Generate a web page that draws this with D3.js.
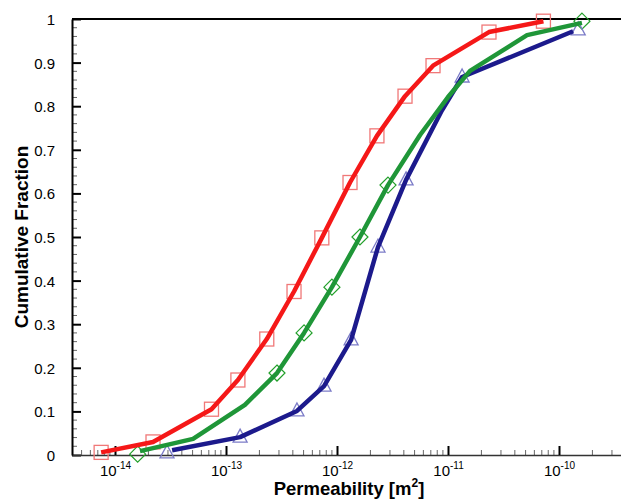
<!DOCTYPE html>
<html>
<head>
<meta charset="utf-8">
<script src="https://cdn.jsdelivr.net/npm/d3@7"></script>
<style>
  html, body { margin: 0; padding: 0; background: #fff; }
  svg { display: block; overflow: hidden; }
  text { font-family: Arial, "Liberation Sans", sans-serif; fill: #000; }
</style>
</head>
<body>
<div id="chart"></div>
<script>
// --- data (permeability in m2, cumulative fraction) ---
var redX = [7.5e-15, 2.2e-14, 7.4e-14, 1.28e-13, 2.33e-13, 4.1e-13, 7.3e-13, 1.31e-12, 2.29e-12, 4.1e-12, 7.33e-12, 2.34e-11, 7.24e-11];
var redY = [0.006, 0.03, 0.105, 0.172, 0.266, 0.375, 0.498, 0.625, 0.732, 0.823, 0.893, 0.970, 0.995];

var greenX = [1.68e-14, 5.05e-14, 1.48e-13, 2.88e-13, 5.05e-13, 9.0e-13, 1.61e-12, 2.88e-12, 5.6e-12, 1.0e-11, 1.58e-11, 5.15e-11, 1.61e-10];
var greenY = [0.009, 0.037, 0.115, 0.188, 0.280, 0.385, 0.500, 0.619, 0.734, 0.821, 0.881, 0.963, 0.991];
var greenMarkX = [1.6e-14, 2.88e-13, 5.05e-13, 9.0e-13, 1.61e-12, 2.88e-12, 1.61e-10];
var greenMarkY = [0.002, 0.188, 0.280, 0.385, 0.500, 0.619, 0.995];

var blueX = [3.27e-14, 1.34e-13, 4.36e-13, 7.64e-13, 1.34e-12, 2.34e-12, 4.19e-12, 8.8e-12, 1.34e-11, 1.34e-10];
var blueY = [0.011, 0.041, 0.101, 0.158, 0.264, 0.477, 0.631, 0.79, 0.867, 0.972];
var blueMarkX = [2.94e-14, 1.34e-13, 4.36e-13, 7.64e-13, 1.34e-12, 2.34e-12, 4.19e-12, 1.34e-11, 1.49e-10];
var blueMarkY = [0.005, 0.041, 0.101, 0.158, 0.264, 0.477, 0.631, 0.867, 0.975];

var xMajor = [-14, -13, -12, -11, -10];
var yMajor = [0, 0.1, 0.2, 0.3, 0.4, 0.5, 0.6, 0.7, 0.8, 0.9, 1];

var W = 621, H = 499;
var plot = { left: 72, right: 630, top: 19, bottom: 455 };

var svg = d3.select("#chart")
  .append("svg")
  .attr("width", W)
  .attr("height", H);

// x: 10^-14 sits at x=115 and each decade is ~111px
var xScale = d3.scaleLog()
  .domain([Math.pow(10, -14 - 43 / 111), Math.pow(10, -10 + 71 / 111)])
  .range([plot.left, plot.right]);
var yScale = d3.scaleLinear()
  .domain([0, 1])
  .range([plot.bottom, plot.top]);

// minor + major tick values
var xMinor = [];
for (var e = -15; e <= -10; e++) {
  for (var k = 2; k <= 9; k++) {
    var v = k * Math.pow(10, e);
    if (v > xScale.domain()[0] && v < xScale.domain()[1]) xMinor.push(v);
  }
}
var yMinor = d3.range(0, 1.001, 0.02).filter(function (d) {
  return Math.abs(d * 10 - Math.round(d * 10)) > 1e-6;
});

// y minor ticks (inward)
svg.append("g")
  .attr("transform", `translate(${plot.left},0)`)
  .selectAll("line")
  .data(yMinor)
  .enter().append("line")
  .attr("x1", 0).attr("x2", 5)
  .attr("y1", function (d) { return yScale(d); })
  .attr("y2", function (d) { return yScale(d); })
  .attr("stroke", "#666").attr("stroke-width", 1);

// y axis
var y_axis = d3.axisLeft(yScale)
  .tickValues(yMajor)
  .tickSizeInner(-9)
  .tickSizeOuter(0)
  .tickPadding(17)
  .tickFormat(function (d) { return d === 1 ? "1" : d === 0 ? "0" : d3.format(".1f")(d); });
var gy = svg.append("g")
  .attr("transform", `translate(${plot.left},0)`)
  .call(y_axis);
gy.select(".domain").attr("stroke", "#000").attr("stroke-width", 2);
gy.selectAll(".tick line").attr("stroke", "#000").attr("stroke-width", 2);
gy.selectAll(".tick text")
  .attr("font-size", 15)
  .attr("font-family", "Arial, 'Liberation Sans', sans-serif")
  .attr("dy", "0.36em");

// x minor ticks (pointing up)
svg.append("g")
  .selectAll("line")
  .data(xMinor)
  .enter().append("line")
  .attr("x1", function (d) { return xScale(d); })
  .attr("x2", function (d) { return xScale(d); })
  .attr("y1", plot.bottom).attr("y2", plot.bottom - 5)
  .attr("stroke", "#666").attr("stroke-width", 1);

// x axis
var x_axis = d3.axisBottom(xScale)
  .tickValues(xMajor.map(function (p) { return Math.pow(10, p); }))
  .tickSizeInner(-9)
  .tickSizeOuter(0)
  .tickFormat("");
var gx = svg.append("g")
  .attr("transform", `translate(0,${plot.bottom})`)
  .call(x_axis);
gx.select(".domain").attr("stroke", "#333").attr("stroke-width", 1.5);
gx.selectAll(".tick line").attr("stroke", "#000").attr("stroke-width", 2);
gx.selectAll(".tick").each(function (d, i) {
  var t = d3.select(this).append("text")
    .attr("y", 21)
    .attr("text-anchor", "middle")
    .attr("font-size", 15)
    .attr("fill", "#000");
  t.append("tspan").text("10");
  t.append("tspan")
    .attr("dy", -7)
    .attr("font-size", 10)
    .text(String(xMajor[i]));
});

// top frame line
svg.append("line")
  .attr("x1", plot.left).attr("x2", W)
  .attr("y1", plot.top).attr("y2", plot.top)
  .attr("stroke", "#000").attr("stroke-width", 2);

// axis titles
var xt = svg.append("text")
  .attr("x", 349).attr("y", 495)
  .attr("text-anchor", "middle")
  .attr("font-size", 18.5).attr("font-weight", "bold");
xt.append("tspan").text("Permeability [m");
xt.append("tspan").attr("dy", -8).attr("font-size", 12).text("2");
xt.append("tspan").attr("dy", 8).text("]");

svg.append("text")
  .attr("transform", "translate(28,237) rotate(-90)")
  .attr("text-anchor", "middle")
  .attr("font-size", 19).attr("font-weight", "bold")
  .text("Cumulative Fraction");

// markers (behind lines)
var markers = svg.append("g");
markers.selectAll("rect")
  .data(d3.zip(redX, redY))
  .enter().append("rect")
  .attr("x", function (d) { return xScale(d[0]) - 7; })
  .attr("y", function (d) { return yScale(d[1]) - 7; })
  .attr("width", 14).attr("height", 14)
  .attr("fill", "none").attr("stroke", "#f07878").attr("stroke-width", 1.3);

markers.selectAll("path.dia")
  .data(d3.zip(greenMarkX, greenMarkY))
  .enter().append("path")
  .attr("class", "dia")
  .attr("d", function (d) {
    var cx = xScale(d[0]), cy = yScale(d[1]), r = 8;
    return `M${cx},${cy - r}L${cx + r},${cy}L${cx},${cy + r}L${cx - r},${cy}Z`;
  })
  .attr("fill", "none").attr("stroke", "#22a02a").attr("stroke-width", 1.2);

markers.selectAll("path.tri")
  .data(d3.zip(blueMarkX, blueMarkY))
  .enter().append("path")
  .attr("class", "tri")
  .attr("d", function (d) {
    var cx = xScale(d[0]), cy = yScale(d[1]);
    return `M${cx},${cy - 8}L${cx + 7},${cy + 5}L${cx - 7},${cy + 5}Z`;
  })
  .attr("fill", "none").attr("stroke", "#7c7cc8").attr("stroke-width", 1.3);

// lines
var line = d3.line()
  .x(function (d) { return xScale(d[0]); })
  .y(function (d) { return yScale(d[1]); });

svg.append("path")
  .datum(d3.zip(blueX, blueY))
  .attr("fill", "none").attr("stroke", "#1c1a8c").attr("stroke-width", 4.5)
  .attr("stroke-linejoin", "round")
  .attr("d", line);
svg.append("path")
  .datum(d3.zip(greenX, greenY))
  .attr("fill", "none").attr("stroke", "#1f9638").attr("stroke-width", 4.5)
  .attr("stroke-linejoin", "round")
  .attr("d", line);
svg.append("path")
  .datum(d3.zip(redX, redY))
  .attr("fill", "none").attr("stroke", "#f51818").attr("stroke-width", 4.5)
  .attr("stroke-linejoin", "round")
  .attr("d", line);
</script>
</body>
</html>
